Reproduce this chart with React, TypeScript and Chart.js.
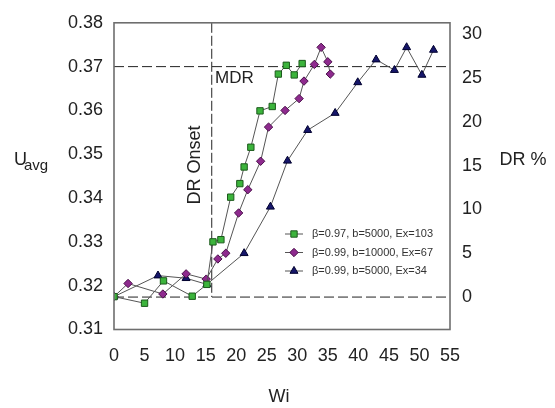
import React, { useEffect, useRef } from 'react';
import { Chart, registerables } from 'chart.js';

Chart.register(...registerables);

// ---- data ----
const xTicks = [0, 5, 10, 15, 20, 25, 30, 35, 40, 45, 50, 55];
const uTicks = [0.31, 0.32, 0.33, 0.34, 0.35, 0.36, 0.37, 0.38];
const drTicks = [0, 5, 10, 15, 20, 25, 30];

const seriesLabels = [
  'β=0.97, b=5000, Ex=103',
  'β=0.99, b=10000, Ex=67',
  'β=0.99, b=5000, Ex=34',
];

const wiGreen = [0, 5.0, 8.1, 12.8, 15.2, 16.2, 17.5, 19.1, 20.6, 21.3, 22.4, 23.9, 25.9, 26.9, 28.2, 29.5, 30.8];
const uGreen = [0.3175, 0.316, 0.3211, 0.3176, 0.3203, 0.33, 0.3305, 0.3402, 0.3433, 0.3471, 0.3516, 0.3599, 0.3609, 0.3683, 0.3703, 0.3681, 0.3707];

const wiPurple = [0, 2.3, 8.0, 11.8, 15.1, 17.0, 18.3, 20.4, 21.9, 24.0, 25.3, 28.0, 30.3, 31.1, 32.8, 33.9, 35.0, 35.4];
const uPurple = [0.3175, 0.3205, 0.3181, 0.3227, 0.3215, 0.3261, 0.3274, 0.3366, 0.3419, 0.3484, 0.3562, 0.36, 0.3627, 0.3667, 0.3705, 0.3744, 0.3711, 0.3683];

const wiNavy = [0, 7.2, 11.8, 15.2, 21.3, 25.6, 28.4, 31.7, 36.2, 39.9, 42.9, 45.9, 47.9, 50.4, 52.3];
const uNavy = [0.3175, 0.3223, 0.3217, 0.3203, 0.3274, 0.338, 0.3485, 0.3555, 0.3594, 0.3664, 0.3716, 0.3692, 0.3744, 0.3681, 0.3738];

const mdrU = 0.37;
const onsetWi = 16;
const drBaseline = 0;

const FONT = '"Liberation Sans", Arial, sans-serif';

const styles = [
  { shape: 'rect', fill: '#3cb43c', stroke: '#1c5a1c', radius: 4.5 },
  { shape: 'rectRot', fill: '#8e2a8e', stroke: '#4a0f4a', radius: 4.2 },
  { shape: 'triangle', fill: '#16166a', stroke: '#00002e', radius: 4.6 },
];

function drawMarker(ctx: CanvasRenderingContext2D, shape: string, x: number, y: number, r: number, fill: string, stroke: string) {
  ctx.save();
  ctx.setLineDash([]);
  ctx.fillStyle = fill;
  ctx.strokeStyle = stroke;
  ctx.lineWidth = 1;
  ctx.beginPath();
  if (shape === 'rect') {
    const s = r * Math.SQRT1_2;
    ctx.rect(x - s, y - s, 2 * s, 2 * s);
  } else if (shape === 'rectRot') {
    ctx.moveTo(x, y - r);
    ctx.lineTo(x + r, y);
    ctx.lineTo(x, y + r);
    ctx.lineTo(x - r, y);
    ctx.closePath();
  } else {
    const h = r;
    ctx.moveTo(x, y - h);
    ctx.lineTo(x + h * 0.866, y + h * 0.5);
    ctx.lineTo(x - h * 0.866, y + h * 0.5);
    ctx.closePath();
  }
  ctx.fill();
  ctx.stroke();
  ctx.restore();
}

export default function App() {
  const ref = useRef<HTMLCanvasElement>(null);

  useEffect(() => {
    if (!ref.current) return;
    const toPts = (xs: number[], ys: number[]) => xs.map((x, i) => ({ x, y: ys[i] }));
    const seriesX = [wiGreen, wiPurple, wiNavy];
    const seriesY = [uGreen, uPurple, uNavy];

    const overlay = {
      id: 'overlay',
      beforeDatasetsDraw(chart: any) {
        const { ctx, chartArea: a, scales } = chart;
        const line = (x1: number, y1: number, x2: number, y2: number) => {
          ctx.beginPath();
          ctx.moveTo(x1, y1);
          ctx.lineTo(x2, y2);
          ctx.stroke();
        };
        ctx.save();
        ctx.strokeStyle = '#222';
        ctx.lineWidth = 1;
        ctx.setLineDash([10, 4]);
        const yM = scales.y.getPixelForValue(mdrU);
        line(a.left, yM, a.right, yM);
        const y0 = scales.y1.getPixelForValue(drBaseline);
        line(a.left, y0, a.right, y0);
        ctx.setLineDash([10, 3]);
        const xo = scales.x.getPixelForValue(onsetWi);
        line(xo, a.top, xo, y0);
        ctx.restore();
      },
      afterDraw(chart: any) {
        const { ctx, chartArea: a } = chart;
        ctx.save();
        // frame
        ctx.strokeStyle = '#6e6e6e';
        ctx.lineWidth = 1.6;
        ctx.setLineDash([]);
        ctx.strokeRect(a.left, a.top, a.right - a.left, a.bottom - a.top);

        ctx.fillStyle = '#222';
        // axis titles
        ctx.font = `18px ${FONT}`;
        ctx.textAlign = 'center';
        ctx.textBaseline = 'middle';
        ctx.fillText('Wi', 279, 397);
        ctx.fillText('DR %', 523, 160);
        ctx.textAlign = 'left';
        ctx.textBaseline = 'alphabetic';
        ctx.fillText('U', 14, 165);
        ctx.font = `15px ${FONT}`;
        ctx.fillText('avg', 24, 170);

        // annotations
        ctx.font = `17px ${FONT}`;
        ctx.textBaseline = 'middle';
        ctx.fillText('MDR', 215, 78);
        ctx.save();
        ctx.translate(195, 165);
        ctx.rotate(-Math.PI / 2);
        ctx.textAlign = 'center';
        ctx.font = `18px ${FONT}`;
        ctx.fillText('DR Onset', 0, 0);
        ctx.restore();

        // legend
        ctx.font = `11px ${FONT}`;
        ctx.textAlign = 'left';
        ctx.textBaseline = 'middle';
        seriesLabels.forEach((lab, i) => {
          const ly = 234 + i * 18.5;
          ctx.strokeStyle = '#555';
          ctx.lineWidth = 1;
          ctx.beginPath();
          ctx.moveTo(285, ly);
          ctx.lineTo(303, ly);
          ctx.stroke();
          const s = styles[i];
          drawMarker(ctx, s.shape, 294, ly, s.radius, s.fill, s.stroke);
          ctx.fillStyle = '#333';
          ctx.fillText(lab, 312, ly);
        });
        ctx.restore();
      },
    };

    const chart = new Chart(ref.current, {
      type: 'scatter',
      data: {
        datasets: seriesLabels.map((lab, i) => ({
          label: lab,
          data: toPts(seriesX[i], seriesY[i]),
          showLine: true,
          borderColor: '#555',
          borderWidth: 1,
          pointStyle: styles[i].shape as any,
          pointRadius: styles[i].radius,
          pointBackgroundColor: styles[i].fill,
          pointBorderColor: styles[i].stroke,
          pointBorderWidth: 1,
          yAxisID: 'y',
        })),
      },
      options: {
        animation: false,
        responsive: false,
        layout: { padding: { top: 14, left: 0, right: 0, bottom: 0 } },
        plugins: { legend: { display: false }, tooltip: { enabled: false } },
        scales: {
          x: {
            type: 'linear',
            min: 0,
            max: 55,
            grid: { display: false, drawTicks: false },
            border: { display: false },
            afterBuildTicks: (s: any) => { s.ticks = xTicks.map((v) => ({ value: v })); },
            afterFit: (s: any) => { s.height = 78.5; },
            ticks: { padding: 16, color: '#222', font: { family: FONT, size: 18 }, maxRotation: 0, autoSkip: false },
          },
          y: {
            type: 'linear',
            position: 'left',
            min: 0.31,
            max: 0.38,
            grid: { display: false, drawTicks: false },
            border: { display: false },
            afterBuildTicks: (s: any) => { s.ticks = uTicks.map((v) => ({ value: v })); },
            afterFit: (s: any) => { s.width = 114; },
            ticks: { padding: 11, color: '#222', font: { family: FONT, size: 18 }, callback: (v: any) => Number(v).toFixed(2) },
          },
          y1: {
            type: 'linear',
            position: 'right',
            min: -3.7,
            max: 31.3,
            grid: { display: false, drawTicks: false },
            border: { display: false },
            afterBuildTicks: (s: any) => { s.ticks = drTicks.map((v) => ({ value: v })); },
            afterFit: (s: any) => { s.width = 105; },
            ticks: { padding: 12, color: '#222', font: { family: FONT, size: 18 } },
          },
        },
      },
      plugins: [overlay],
    } as any);
    return () => chart.destroy();
  }, []);

  return (
    <div style={{ position: 'absolute', left: 0, top: 0, width: 555, height: 408, background: '#fff' }}>
      <canvas ref={ref} width={555} height={408} style={{ display: 'block' }} />
    </div>
  );
}
